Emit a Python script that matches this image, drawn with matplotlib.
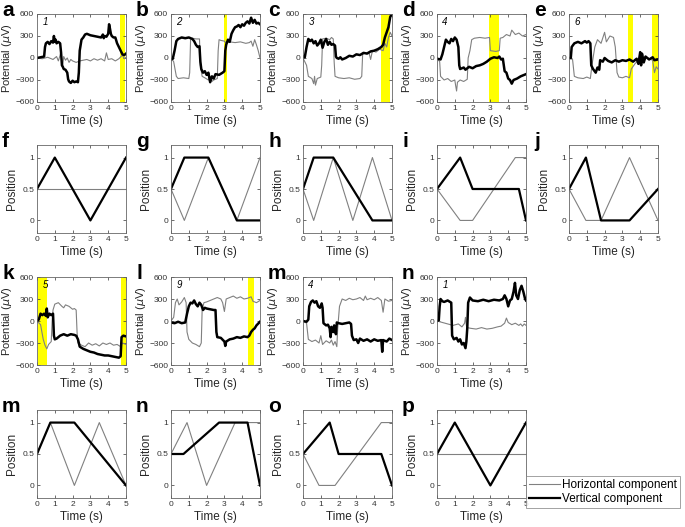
import matplotlib
matplotlib.use('Agg')
from matplotlib import pyplot as plt
import numpy as np

plt.rcParams['font.family'] = ['Liberation Sans', 'DejaVu Sans']
plt.rcParams['mathtext.fontset'] = 'dejavusans'

# EOG traces: (time s, potential uV)
# thick = vertical component, thin = horizontal component
a_thick = [(0, 0), (0.2, 10), (0.4, 20), (0.45, 150), (0.5, 200), (0.6, 220), (0.7, 190), (0.8, 230), (0.9, 210),
           (0.95, 300), (1.0, 220), (1.05, 250), (1.1, 200), (1.2, 220), (1.3, 200), (1.35, 80), (1.4, -100),
           (1.45, -120), (1.5, -150), (1.6, -160), (1.7, -200), (1.75, -290), (1.8, -320), (1.9, -340), (2.0, -310),
           (2.1, -330), (2.2, -320), (2.3, -330), (2.35, -200), (2.4, 100), (2.5, 250), (2.6, 280), (2.7, 320),
           (2.8, 330), (3.0, 310), (3.2, 300), (3.4, 290), (3.6, 280), (3.7, 320), (3.75, 270), (3.8, 300),
           (3.9, 290), (4.0, 330), (4.05, 460), (4.1, 400), (4.15, 330), (4.2, 300), (4.3, 280), (4.4, 280),
           (4.5, 200), (4.6, 150), (4.7, 100), (4.8, 50), (4.9, 40), (5.0, 60)]
a_thin = [(0, 0), (0.3, -10), (0.6, 10), (0.9, -20), (1.1, 20), (1.2, -40), (1.3, 40), (1.35, 90), (1.4, -60),
          (1.45, -100), (1.5, 20), (1.6, -30), (1.7, 0), (1.8, -60), (1.9, -20), (2.0, -40), (2.2, -60), (2.4, -40),
          (2.6, -30), (2.8, -20), (3.0, -40), (3.2, -10), (3.4, -30), (3.6, -10), (3.8, -40), (3.9, 70), (4.0, -20),
          (4.2, -10), (4.4, -40), (4.6, -10), (4.8, 40), (4.9, -10), (5.0, 10)]

b_thick = [(0, -20), (0.1, -10), (0.2, 100), (0.3, 230), (0.4, 260), (0.6, 280), (0.8, 270), (1.0, 280), (1.2, 260),
           (1.3, 230), (1.4, 180), (1.5, 150), (1.6, 160), (1.65, -50), (1.7, -150), (1.8, -200), (1.9, -180),
           (2.0, -230), (2.1, -200), (2.2, -330), (2.3, -250), (2.4, -280), (2.5, -220), (2.7, -230), (2.9, -200),
           (3.0, -180), (3.05, 100), (3.1, 180), (3.2, 250), (3.3, 220), (3.4, 330), (3.5, 380), (3.6, 420),
           (3.7, 430), (3.8, 450), (3.9, 420), (4.0, 460), (4.1, 440), (4.2, 480), (4.3, 500), (4.4, 470),
           (4.5, 550), (4.6, 480), (4.7, 520), (4.8, 470), (4.9, 480), (5.0, 460)]
b_thin = [(0, 0), (0.15, -50), (0.3, -250), (0.4, -280), (0.7, -270), (1.0, -280), (1.05, -200), (1.1, 250),
          (1.2, 270), (1.4, 260), (1.6, 260), (1.65, -100), (1.75, -250), (1.9, -270), (2.1, -300), (2.2, -250),
          (2.3, -320), (2.4, -300), (2.6, -280), (2.65, 100), (2.7, 250), (2.8, 240), (3.0, 230), (3.1, 200),
          (3.3, 220), (3.6, 210), (3.9, 220), (4.2, 200), (4.4, 210), (4.5, 230), (4.6, 160), (4.7, 250),
          (4.8, 180), (4.9, 100), (5.0, 0)]

c_thick = [(0, 20), (0.1, 10), (0.2, 150), (0.3, 260), (0.4, 230), (0.5, 250), (0.6, 200), (0.7, 230), (0.8, 170),
           (0.9, 200), (1.0, 250), (1.1, 140), (1.2, 220), (1.3, 260), (1.4, 180), (1.5, 220), (1.6, 180),
           (1.7, 190), (1.8, 170), (1.85, 20), (1.9, 0), (2.0, -10), (2.1, 10), (2.2, -20), (2.4, 0), (2.6, 30),
           (2.8, 20), (3.0, 50), (3.2, 40), (3.4, 70), (3.6, 60), (3.8, 90), (4.0, 100), (4.2, 120), (4.4, 150),
           (4.5, 180), (4.6, 280), (4.7, 350), (4.8, 420), (4.9, 560), (5.0, 600)]
c_thin = [(0, 0), (0.2, -100), (0.3, -250), (0.5, -280), (0.6, -350), (0.65, -250), (0.7, -370), (0.8, -280),
          (1.0, -260), (1.05, -100), (1.1, 260), (1.3, 270), (1.5, 250), (1.6, 280), (1.7, 260), (1.75, -50),
          (1.8, -250), (2.0, -270), (2.3, -280), (2.6, -270), (2.9, -290), (3.2, -280), (3.3, -250), (3.35, 50),
          (3.5, 70), (3.7, 80), (3.8, -20), (3.9, 100), (4.1, 80), (4.3, 120), (4.5, 100), (4.6, 200), (4.7, 150),
          (4.8, 280), (4.9, 350), (5.0, 300)]

d_thick = [(0, -10), (0.2, -20), (0.3, 50), (0.4, 150), (0.5, 250), (0.6, 220), (0.7, 200), (0.8, 260), (0.9, 230),
           (1.0, 280), (1.1, 250), (1.2, 150), (1.25, -100), (1.3, -150), (1.5, -130), (1.6, -160), (1.8, -120),
           (2.0, -140), (2.2, -110), (2.4, -100), (2.6, -80), (2.8, -50), (3.0, -10), (3.2, 10), (3.4, 0),
           (3.5, 20), (3.6, -20), (3.7, -10), (3.8, -180), (3.9, -200), (4.0, -280), (4.1, -300), (4.2, -350),
           (4.3, -300), (4.5, -280), (4.7, -250), (4.9, -230), (5.0, -220)]
d_thin = [(0, 0), (0.15, -50), (0.2, -250), (0.4, -300), (0.6, -280), (0.8, -320), (1.0, -300), (1.05, -380),
          (1.1, -450), (1.15, -330), (1.3, -300), (1.5, -320), (1.7, -290), (1.75, 0), (1.85, 100), (1.95, 250),
          (2.1, 270), (2.4, 280), (2.7, 270), (2.95, 280), (3.0, 100), (3.3, 90), (3.5, 100), (3.55, 270),
          (3.7, 280), (3.9, 320), (4.1, 300), (4.2, 380), (4.4, 320), (4.6, 340), (4.8, 300), (5.0, 320)]

e_thick = [(0, 0), (0.1, 0), (0.15, 150), (0.3, 200), (0.5, 220), (0.7, 200), (0.9, 230), (1.0, 210), (1.1, 230),
           (1.2, 200), (1.25, -100), (1.35, -150), (1.5, -200), (1.6, -130), (1.7, -160), (1.75, -30), (1.9, -50),
           (2.0, 0), (2.2, -40), (2.4, -60), (2.6, -30), (2.8, -50), (3.0, -30), (3.2, -40), (3.4, -20), (3.6, -50),
           (3.8, -10), (3.9, -80), (4.0, 80), (4.05, -100), (4.1, 60), (4.2, -60), (4.3, 20), (4.5, -20),
           (4.7, 10), (4.8, -30), (5.0, -20)]
e_thin = [(0, 0), (0.2, -20), (0.3, -250), (0.5, -270), (0.8, -280), (1.0, -260), (1.2, -280), (1.3, -80),
          (1.45, 150), (1.6, 250), (1.8, 200), (2.0, 350), (2.1, 220), (2.3, 300), (2.5, 280), (2.6, 150),
          (2.7, -200), (2.8, -260), (3.0, -270), (3.2, -250), (3.4, -270), (3.5, -150), (3.7, -80), (3.9, -30),
          (4.1, 0), (4.3, 20), (4.5, -10), (4.7, -30), (4.8, -200), (4.9, -120), (5.0, -150)]

k_thick = [(0, 0), (0.1, 20), (0.2, 100), (0.3, 80), (0.4, 100), (0.5, 70), (0.55, 170), (0.6, 50), (0.7, 100),
           (0.8, 80), (0.9, 100), (0.95, -200), (1.0, -250), (1.1, -240), (1.2, -220), (1.3, -200), (1.5, -180),
           (1.7, -200), (1.9, -180), (2.1, -190), (2.2, -200), (2.3, -250), (2.4, -350), (2.6, -380), (2.8, -400),
           (3.0, -420), (3.2, -430), (3.4, -450), (3.6, -460), (3.8, -470), (4.0, -470), (4.2, -480), (4.4, -490),
           (4.6, -500), (4.7, -480), (4.75, -220), (4.85, -200), (5.0, -210)]
k_thin = [(0, 0), (0.2, -50), (0.35, -250), (0.45, -330), (0.55, -380), (0.65, -320), (0.8, -280), (0.85, 0),
          (0.9, 150), (1.0, 230), (1.2, 250), (1.4, 200), (1.5, 180), (1.6, 220), (1.8, 200), (2.0, 160),
          (2.1, 170), (2.2, 150), (2.25, -150), (2.3, -300), (2.5, -330), (2.7, -350), (2.9, -300), (3.1, -330),
          (3.3, -310), (3.5, -340), (3.7, -300), (3.9, -320), (4.1, -300), (4.3, -330), (4.5, -320), (4.7, -350),
          (4.8, -300), (5.0, -320)]

l_thick = [(0, -20), (0.2, -30), (0.4, -10), (0.6, -30), (0.8, -20), (0.9, 100), (1.0, 200), (1.1, 250), (1.2, 240),
           (1.3, 280), (1.4, 230), (1.5, 200), (1.6, 250), (1.7, 220), (1.8, 150), (1.9, 180), (2.0, 170),
           (2.2, 160), (2.4, 150), (2.5, 150), (2.55, -150), (2.6, -220), (2.8, -230), (3.0, -280), (3.05, -340),
           (3.1, -280), (3.3, -250), (3.5, -240), (3.7, -220), (3.9, -230), (4.1, -210), (4.3, -220), (4.4, -200),
           (4.5, -150), (4.6, -120), (4.7, -100), (4.8, -60), (5.0, -10)]
l_thin = [(0, 0), (0.15, 50), (0.25, 250), (0.35, 300), (0.45, 220), (0.6, 260), (0.75, 320), (0.85, 250),
          (0.9, -150), (1.0, -250), (1.2, -300), (1.4, -320), (1.6, -350), (1.7, -300), (1.75, 150), (1.85, 250),
          (2.0, 260), (2.2, 280), (2.4, 300), (2.6, 320), (2.8, 300), (2.9, 250), (3.0, 130), (3.1, 300),
          (3.3, 320), (3.5, 340), (3.7, 310), (3.9, 330), (4.1, 300), (4.3, 310), (4.5, 330), (4.6, 270),
          (4.8, 250), (5.0, 280)]

m_thick = [(0, 0), (0.2, -10), (0.3, 20), (0.35, 200), (0.45, 260), (0.55, 280), (0.65, 250), (0.75, 270),
           (0.85, 200), (0.95, 180), (1.05, 240), (1.1, 180), (1.15, -30), (1.3, -60), (1.4, -50), (1.5, -100),
           (1.55, -220), (1.6, -80), (1.7, -150), (1.75, -60), (1.85, -180), (1.9, -20), (2.0, -30), (2.2, -40),
           (2.4, -30), (2.6, -20), (2.7, -40), (2.75, -200), (2.85, -260), (3.0, -250), (3.1, -300), (3.2, -240),
           (3.4, -270), (3.6, -250), (3.8, -280), (4.0, -250), (4.2, -270), (4.4, -260), (4.45, -420), (4.5, -260),
           (4.7, -280), (4.85, -240), (5.0, -260)]
m_thin = [(0, 0), (0.2, -30), (0.3, -250), (0.5, -280), (0.7, -260), (0.9, -300), (1.0, -200), (1.1, -320),
          (1.3, -270), (1.5, -300), (1.6, -260), (1.7, -330), (1.8, -280), (1.9, -350), (1.95, -100), (2.05, 200),
          (2.2, 300), (2.4, 280), (2.6, 310), (2.8, 290), (3.0, 300), (3.2, 320), (3.4, 280), (3.5, 340),
          (3.6, 290), (3.8, 310), (4.0, 290), (4.2, 320), (4.4, 280), (4.5, 120), (4.6, 300), (4.8, 270),
          (5.0, 280)]

n_thick = [(0, 0), (0.1, 10), (0.15, 200), (0.2, 300), (0.3, 270), (0.4, 260), (0.6, 280), (0.8, 250),
           (0.85, -200), (0.95, -250), (1.1, -230), (1.2, -280), (1.3, -250), (1.4, -320), (1.5, -300),
           (1.6, -370), (1.65, -280), (1.7, -100), (1.75, 250), (1.85, 320), (2.0, 280), (2.3, 270), (2.6, 290),
           (2.9, 270), (3.2, 290), (3.5, 280), (3.7, 300), (3.8, 350), (3.9, 300), (4.0, 200), (4.1, 280),
           (4.2, 300), (4.3, 400), (4.38, 520), (4.45, 350), (4.55, 300), (4.65, 420), (4.75, 480), (4.85, 400),
           (4.95, 300), (5.0, 280)]
n_thin = [(0, 0), (0.3, -20), (0.6, -40), (0.9, -60), (1.2, -40), (1.4, -80), (1.55, -30), (1.6, 50), (1.65, -60),
          (1.7, -90), (1.9, -100), (2.2, -110), (2.5, -90), (2.8, -110), (3.1, -100), (3.4, -80), (3.6, -70),
          (3.8, -30), (3.9, 40), (4.0, -20), (4.2, -50), (4.4, -30), (4.6, -60), (4.7, -40), (4.8, -70),
          (4.9, -40), (5.0, -60)]

# yellow highlighted intervals (s)
a_spans = [(4.65, 4.95)]
b_spans = [(2.98, 3.16)]
c_spans = [(4.4, 4.9)]
d_spans = [(2.92, 3.48)]
e_spans = [(3.3, 3.6), (4.65, 4.98)]
k_spans = [(0.07, 0.55), (4.72, 5.0)]
l_spans = [(4.35, 4.68)]
m_spans = []
n_spans = []

trial_numbers = ['1', '2', '3', '4', '6', '5', '9', '4', '1']

# target trajectories: (time s, position)
f_h = [(0, 0.5), (5, 0.5)]
f_v = [(0, 0.5), (1, 1), (3, 0), (5, 1)]
g_h = [(0, 0.5), (0.75, 0), (2.1, 1), (3.7, 0), (5, 1)]
g_v = [(0, 0.5), (0.75, 1), (2.1, 1), (3.7, 0), (5, 0)]
h_h = [(0, 0.5), (0.6, 0), (1.7, 1), (2.8, 0), (3.9, 1), (5, 0)]
h_v = [(0, 0.5), (0.6, 1), (1.7, 1), (3.9, 0), (5, 0)]
i_h = [(0, 0.5), (1.3, 0), (2.0, 0), (4.4, 1), (5, 1)]
i_v = [(0, 0.5), (1.3, 1), (2.0, 0.5), (4.6, 0.5), (5, 0)]
j_h = [(0, 0.5), (0.95, 0), (1.8, 0), (3.4, 1), (5, 0)]
j_v = [(0, 0.5), (0.95, 1), (1.8, 0), (3.4, 0), (5, 0.5)]
m2_h = [(0, 0.5), (0.75, 1), (2.1, 0), (3.5, 1), (5, 0)]
m2_v = [(0, 0.5), (0.75, 1), (2.1, 1), (5, 0)]
n2_h = [(0, 0.5), (0.9, 1), (2.0, 0), (3.6, 1), (5, 1)]
n2_v = [(0, 0.5), (0.7, 0.5), (2.7, 1), (4.3, 1), (5, 0)]
o_h = [(0, 0.5), (0.9, 0), (1.8, 0), (4.4, 1), (5, 1)]
o_v = [(0, 0.5), (1.5, 1), (2.0, 0.5), (4.4, 0.5), (5, 0)]
p_h = [(0, 0.5), (5, 0.5)]
p_v = [(0, 0.5), (1, 1), (3, 0), (5, 1)]

W, H = 685, 527
col_left = [37, 171, 303, 437, 569]
row_top = [14, 145, 277, 410]
AW, AH = 89, 88

fig = plt.figure(figsize=(W / 100, H / 100), dpi=100)


def make_axes(row, col, letter):
    l, t = col_left[col], row_top[row]
    ax = fig.add_axes([l / W, 1 - (t + AH) / H, AW / W, AH / H])
    ax.tick_params(direction='in', top=True, right=True, length=2, width=0.5,
                   labelsize=6, pad=2, colors='#333333')
    for s in ax.spines.values():
        s.set_linewidth(0.6)
        s.set_color('#666666')
    ax.set_xlim(0, 5)
    ax.set_xticks([0, 1, 2, 3, 4, 5])
    ax.set_xlabel('Time (s)', fontsize=8.5, labelpad=2, color='#262626')
    fig.text((l - 35) / W, 1 - (t + 2) / H, letter, fontsize=15, fontweight='bold',
             ha='left', va='baseline')
    return ax


def potential_panel(row, col, letter, thick, thin, spans, num):
    ax = make_axes(row, col, letter)
    for s0, s1 in spans:
        ax.axvspan(s0, s1, color='#ffff00', lw=0, zorder=0)
    th = np.array(thin)
    tk = np.array(thick)
    ax.plot(th[:, 0], th[:, 1], color='#808080', lw=0.8)
    ax.plot(tk[:, 0], tk[:, 1], color='black', lw=1.8)
    ax.set_ylim(-600, 600)
    ax.set_yticks([-600, -300, 0, 300, 600])
    ax.set_ylabel('Potential ($\\mu$V)', fontsize=8, labelpad=1, color='#262626')
    ax.text(0.3, 560, num, fontsize=7, style='italic', va='top')


def position_panel(row, col, letter, hz, vt):
    ax = make_axes(row, col, letter)
    h = np.array(hz)
    v = np.array(vt)
    ax.plot(h[:, 0], h[:, 1], color='#808080', lw=0.8, label='Horizontal component')
    ax.plot(v[:, 0], v[:, 1], color='black', lw=1.6, label='Vertical component')
    ax.set_ylim(-0.2, 1.2)
    ax.set_yticks([0, 0.5, 1])
    ax.set_yticklabels(['0', '0.5', '1'])
    ax.set_ylabel('Position', fontsize=8.5, labelpad=3, color='#262626')
    return ax


potential_panel(0, 0, 'a', a_thick, a_thin, a_spans, trial_numbers[0])
potential_panel(0, 1, 'b', b_thick, b_thin, b_spans, trial_numbers[1])
potential_panel(0, 2, 'c', c_thick, c_thin, c_spans, trial_numbers[2])
potential_panel(0, 3, 'd', d_thick, d_thin, d_spans, trial_numbers[3])
potential_panel(0, 4, 'e', e_thick, e_thin, e_spans, trial_numbers[4])

position_panel(1, 0, 'f', f_h, f_v)
position_panel(1, 1, 'g', g_h, g_v)
position_panel(1, 2, 'h', h_h, h_v)
position_panel(1, 3, 'i', i_h, i_v)
position_panel(1, 4, 'j', j_h, j_v)

potential_panel(2, 0, 'k', k_thick, k_thin, k_spans, trial_numbers[5])
potential_panel(2, 1, 'l', l_thick, l_thin, l_spans, trial_numbers[6])
potential_panel(2, 2, 'm', m_thick, m_thin, m_spans, trial_numbers[7])
potential_panel(2, 3, 'n', n_thick, n_thin, n_spans, trial_numbers[8])

position_panel(3, 0, 'm', m2_h, m2_v)
position_panel(3, 1, 'n', n2_h, n2_v)
position_panel(3, 2, 'o', o_h, o_v)
ax_p = position_panel(3, 3, 'p', p_h, p_v)

handles, labels = ax_p.get_legend_handles_labels()
leg = fig.legend(handles, labels, loc='upper left', bbox_to_anchor=(526 / W, 1 - 476 / H),
                 fontsize=8.5, frameon=True, fancybox=False, borderaxespad=0, borderpad=0.25,
                 handlelength=2.6, handletextpad=0.2, labelspacing=0.15)
leg.get_frame().set_edgecolor('#777777')
leg.get_frame().set_linewidth(0.6)

plt.savefig('out.png', dpi=100)
